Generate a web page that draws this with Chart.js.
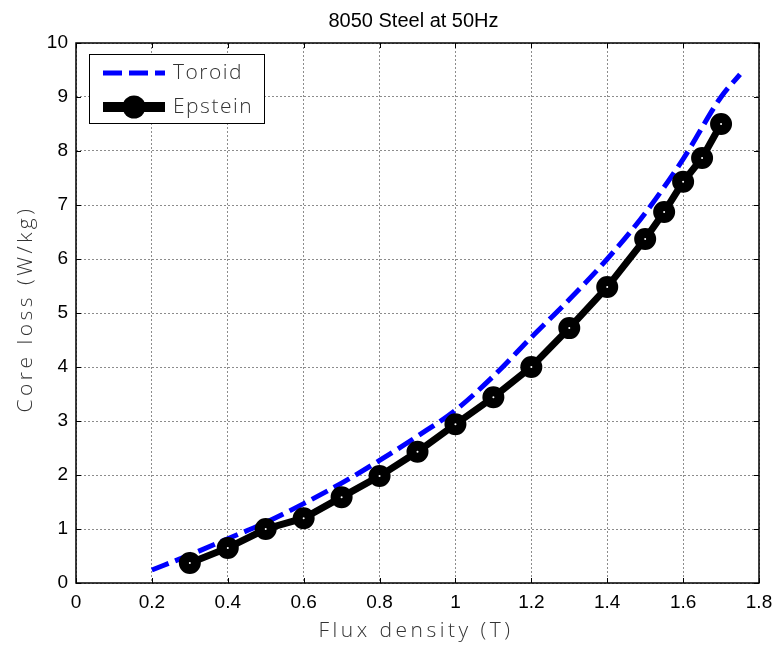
<!DOCTYPE html>
<html>
<head>
<meta charset="utf-8">
<title>8050 Steel at 50Hz</title>
<script src="https://cdn.jsdelivr.net/npm/chart.js@4.4.1/dist/chart.umd.min.js"></script>
<style>
    html, body { margin: 0; padding: 0; background: #fff; }
    #wrap { width: 775px; height: 645px; }
</style>
</head>
<body>
<div id="wrap"><canvas id="lossChart" width="775" height="645"></canvas></div>
<script>
// valores
var fluxTicks = [0, 0.2, 0.4, 0.6, 0.8, 1, 1.2, 1.4, 1.6, 1.8];
var lossTicks = [0, 1, 2, 3, 4, 5, 6, 7, 8, 9, 10];

var toroidFlux = [0.2, 0.3, 0.4, 0.5, 0.6, 0.7, 0.8, 0.9, 1.0, 1.1, 1.2, 1.3, 1.4, 1.5, 1.6, 1.7, 1.75];
var toroidLoss = [0.24, 0.52, 0.82, 1.12, 1.47, 1.85, 2.27, 2.72, 3.2, 3.83, 4.55, 5.25, 6.0, 6.85, 7.85, 9.0, 9.42];

var epsteinFlux = [0.3, 0.4, 0.5, 0.6, 0.7, 0.8, 0.9, 1.0, 1.1, 1.2, 1.3, 1.4, 1.5, 1.55, 1.6, 1.65, 1.7];
var epsteinLoss = [0.37, 0.65, 1.0, 1.2, 1.59, 1.98, 2.43, 2.94, 3.44, 4.0, 4.72, 5.48, 6.37, 6.87, 7.43, 7.87, 8.5];

var seriesNames = ['Toroid', 'Epstein'];
var chartTitle = '8050 Steel at 50Hz';
var xTitle = 'Flux density (T)';
var yTitle = 'Core loss (W/kg)';

var grafica = {
    labelFont: '300 21px "Open Sans"',
    toPoints: function (xs, ys) {
        var pts = [];
        for (var i = 0; i < xs.length; i++) {
            pts.push({x: xs[i], y: ys[i]});
        }
        return pts;
    },
    fixTicks: function (list) {
        return function (scale) {
            scale.ticks = list.map(function (v) { return {value: v}; });
        };
    },
    // caja, marcas interiores, titulos y leyenda estilo matlab
    boxPlugin: {
        id: 'matlabBox',
        afterDraw: function (chart) {
            var ctx = chart.ctx, a = chart.chartArea;
            var xs = chart.scales.x, ys = chart.scales.y;
            ctx.save();
            ctx.strokeStyle = '#000';
            ctx.lineWidth = 1;
            ctx.beginPath();
            fluxTicks.forEach(function (v) {
                var px = Math.round(xs.getPixelForValue(v)) + 0.5;
                ctx.moveTo(px, a.bottom); ctx.lineTo(px, a.bottom - 5);
                ctx.moveTo(px, a.top); ctx.lineTo(px, a.top + 5);
            });
            lossTicks.forEach(function (v) {
                var py = Math.round(ys.getPixelForValue(v)) + 0.5;
                ctx.moveTo(a.left, py); ctx.lineTo(a.left + 5, py);
                ctx.moveTo(a.right, py); ctx.lineTo(a.right - 5, py);
            });
            ctx.stroke();
            ctx.lineWidth = 1.5;
            ctx.strokeRect(a.left, a.top, a.right - a.left, a.bottom - a.top);

            // titulos
            var cx = (a.left + a.right) / 2;
            ctx.fillStyle = '#000';
            ctx.textAlign = 'center';
            ctx.textBaseline = 'middle';
            ctx.font = '20px "Liberation Sans", Arial';
            ctx.fillText(chartTitle, cx - 4, 21);

            ctx.fillStyle = '#333';
            ctx.font = grafica.labelFont;
            ctx.letterSpacing = '3.5px';
            ctx.textBaseline = 'alphabetic';
            ctx.fillText(xTitle, 414 + 2, 637);
            ctx.save();
            ctx.translate(32, 311);
            ctx.rotate(-Math.PI / 2);
            ctx.fillText(yTitle, 2, 0);
            ctx.restore();

            // leyenda
            var lx = a.left + 13, ly = a.top + 11, lw = 175, lh = 69;
            ctx.fillStyle = '#fff';
            ctx.fillRect(lx, ly, lw, lh);
            ctx.lineWidth = 1;
            ctx.strokeStyle = '#000';
            ctx.strokeRect(lx + 0.5, ly + 0.5, lw, lh);

            var ds = chart.data.datasets;
            var sx0 = lx + 14, sx1 = lx + 76;
            // Toroid
            ctx.strokeStyle = ds[0].borderColor;
            ctx.lineWidth = ds[0].borderWidth;
            ctx.setLineDash([19, 7]);
            ctx.beginPath();
            ctx.moveTo(sx0, ly + 19); ctx.lineTo(sx1, ly + 19);
            ctx.stroke();
            ctx.setLineDash([]);
            // Epstein
            ctx.strokeStyle = ds[1].borderColor;
            ctx.lineWidth = 10;
            ctx.beginPath();
            ctx.moveTo(sx0, ly + 53); ctx.lineTo(sx1, ly + 53);
            ctx.stroke();
            ctx.fillStyle = '#000';
            ctx.beginPath();
            ctx.arc((sx0 + sx1) / 2, ly + 53, 11.5, 0, Math.PI * 2);
            ctx.fill();

            ctx.fillStyle = '#333';
            ctx.font = grafica.labelFont;
            ctx.letterSpacing = '1.5px';
            ctx.textAlign = 'left';
            ctx.textBaseline = 'middle';
            ctx.fillText(seriesNames[0], lx + 84, ly + 19);
            ctx.fillText(seriesNames[1], lx + 84, ly + 53);
            ctx.restore();
        }
    },
    init: function () {
        var ctx = document.getElementById('lossChart').getContext('2d');
        new Chart(ctx, {
            type: 'line',
            data: {
                datasets: [
                    {
                        label: seriesNames[0],
                        data: grafica.toPoints(toroidFlux, toroidLoss),
                        borderColor: '#0000ff',
                        borderWidth: 5,
                        borderDash: [18, 7],
                        pointRadius: 0,
                        cubicInterpolationMode: 'monotone',
                        fill: false,
                        order: 1
                    }, {
                        label: seriesNames[1],
                        data: grafica.toPoints(epsteinFlux, epsteinLoss),
                        borderColor: '#000000',
                        borderWidth: 7,
                        pointRadius: 6,
                        pointBorderWidth: 10,
                        pointBorderColor: '#000000',
                        pointBackgroundColor: '#ffffff',
                        fill: false,
                        order: 0
                    }
                ]
            },
            options: {
                responsive: false,
                animation: false,
                layout: {padding: {left: 0, right: 13, top: 43, bottom: 0}},
                plugins: {
                    legend: {display: false},
                    tooltip: {enabled: false},
                    title: {display: false}
                },
                scales: {
                    x: {
                        type: 'linear',
                        min: 0,
                        max: 1.8,
                        afterBuildTicks: grafica.fixTicks(fluxTicks),
                        afterFit: function (s) { s.height = 62; s.paddingLeft = 0; s.paddingRight = 0; },
                        grid: {color: 'rgba(0,0,0,0.45)', lineWidth: 1, drawTicks: false},
                        border: {display: false, dash: [2, 2]},
                        ticks: {
                            color: '#000',
                            padding: 8,
                            maxRotation: 0,
                            font: {family: '"Liberation Sans", Arial', size: 19},
                            callback: function (v) { return String(parseFloat(v.toFixed(1))); }
                        }
                    },
                    y: {
                        type: 'linear',
                        min: 0,
                        max: 10,
                        afterBuildTicks: grafica.fixTicks(lossTicks),
                        afterFit: function (s) { s.width = 76; s.paddingTop = 0; s.paddingBottom = 0; },
                        grid: {color: 'rgba(0,0,0,0.45)', lineWidth: 1, drawTicks: false},
                        border: {display: false, dash: [2, 2]},
                        ticks: {
                            color: '#000',
                            padding: 8,
                            font: {family: '"Liberation Sans", Arial', size: 19}
                        }
                    }
                }
            },
            plugins: [grafica.boxPlugin]
        });
    }
};
grafica.init();
</script>
</body>
</html>
